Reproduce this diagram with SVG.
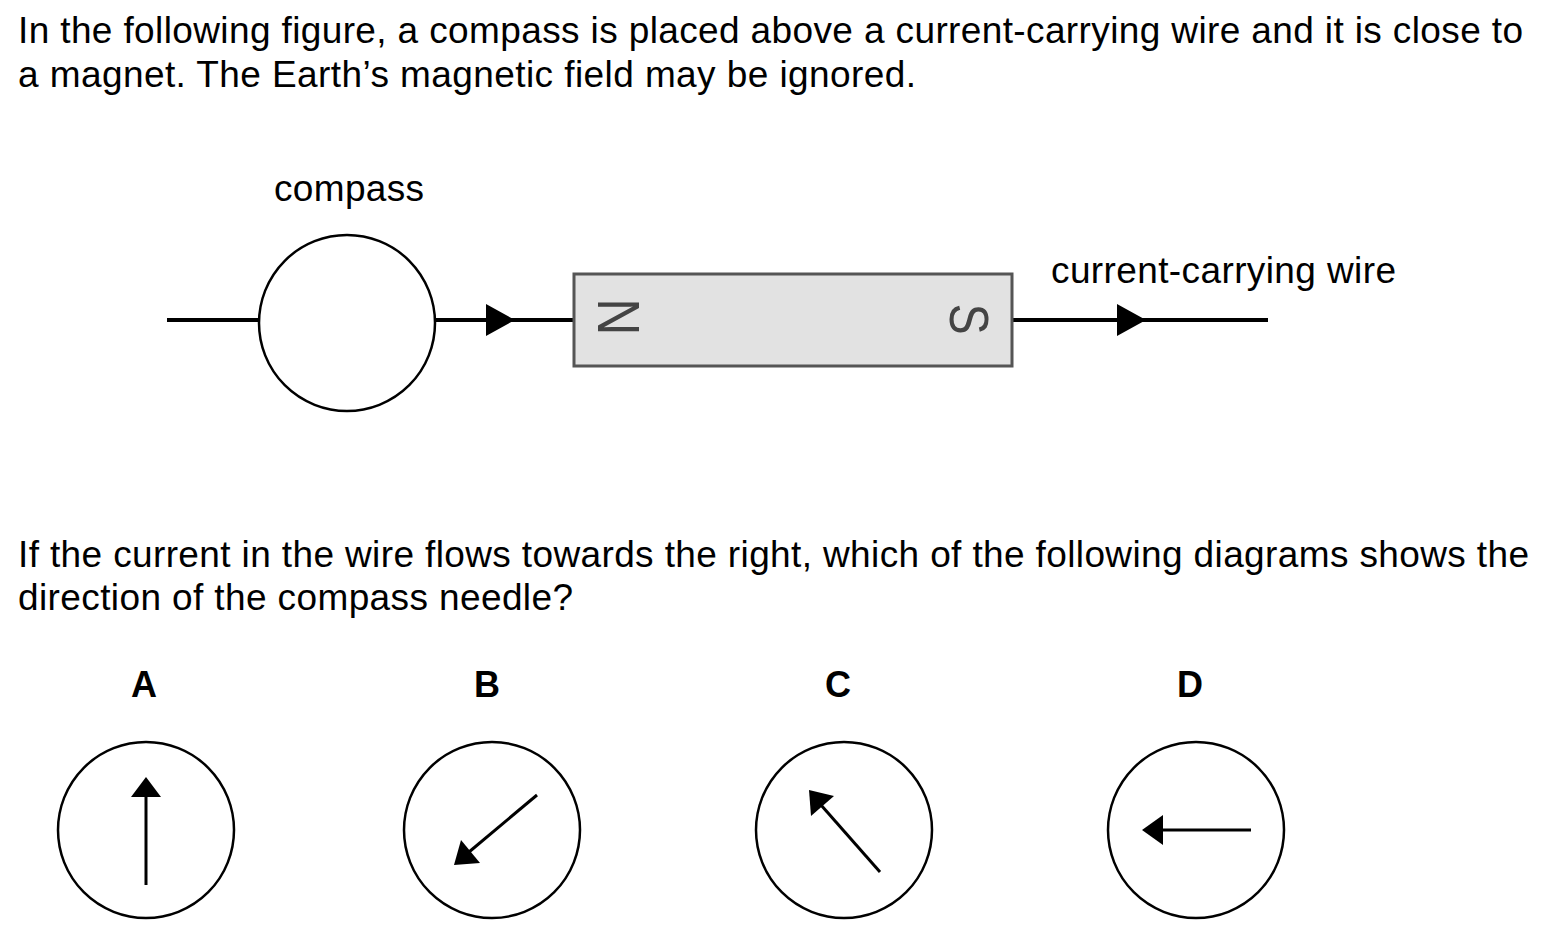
<svg xmlns="http://www.w3.org/2000/svg" width="1550" height="948" viewBox="0 0 1550 948">
<style>
.t{font-family:"Liberation Sans",Arial,Helvetica,sans-serif;font-size:37px;fill:#000}
.lbl{font-family:"Liberation Sans",Arial,Helvetica,sans-serif;font-size:36px;font-weight:bold;fill:#000;text-anchor:middle}
.ring{fill:#fff;stroke:#000;stroke-width:2.5}
.wire{stroke:#000;stroke-width:4;fill:none}
.needle{stroke:#000;stroke-width:3;fill:none}
.head{fill:#000}
.pole{font-family:"Liberation Sans",Arial,Helvetica,sans-serif;fill:#444;text-anchor:middle}
</style>
<rect width="1550" height="948" fill="#fff"/>
<g id="question-text">
<text class="t" x="18" y="43" textLength="1505" lengthAdjust="spacing">In the following figure, a compass is placed above a current-carrying wire and it is close to</text>
<text class="t" x="18" y="87" textLength="898" lengthAdjust="spacing">a magnet. The Earth’s magnetic field may be ignored.</text>
<text class="t" x="18" y="567" textLength="1511" lengthAdjust="spacing">If the current in the wire flows towards the right, which of the following diagrams shows the</text>
<text class="t" x="18" y="610" textLength="555" lengthAdjust="spacing">direction of the compass needle?</text>
</g>
<g id="connectors">
<line class="wire" x1="167" y1="320" x2="260" y2="320"/>
<line class="wire" x1="434" y1="320" x2="573" y2="320"/>
<polygon class="head" points="486,304 486,336 515,320"/>
<line class="wire" x1="1013" y1="320" x2="1268" y2="320"/>
<polygon class="head" points="1117,304 1117,336 1146,320"/>
</g>
<g id="compass">
<circle class="ring" cx="347" cy="323" r="88"/>
<text class="t" x="274" y="201" textLength="150" lengthAdjust="spacing">compass</text>
</g>
<g id="magnet">
<rect x="574" y="274" width="438" height="92" fill="#e2e2e2" stroke="#555" stroke-width="3"/>
<text class="pole" font-size="60" transform="translate(620,317) rotate(90) scale(0.86,1)" x="0" y="21.5">N</text>
<text class="pole" font-size="55" transform="translate(970,319) rotate(90) scale(0.85,1)" x="0" y="19.7">S</text>
</g>
<g id="wire-label">
<text class="t" x="1051" y="283" textLength="345" lengthAdjust="spacing">current-carrying wire</text>
</g>
<g id="option-A">
<text class="lbl" x="144" y="697">A</text>
<circle class="ring" cx="146" cy="830" r="88"/>
<line class="needle" x1="146" y1="885" x2="146" y2="795"/>
<polygon class="head" points="146,777 131,797 161,797"/>
</g>
<g id="option-B">
<text class="lbl" x="487" y="697">B</text>
<circle class="ring" cx="492" cy="830" r="88"/>
<line class="needle" x1="537" y1="795" x2="469" y2="852"/>
<polygon class="head" points="454,865 480,863 461,840"/>
</g>
<g id="option-C">
<text class="lbl" x="838" y="697">C</text>
<circle class="ring" cx="844" cy="830" r="88"/>
<line class="needle" x1="880" y1="872" x2="821" y2="805"/>
<polygon class="head" points="809,790 834,796 811,816"/>
</g>
<g id="option-D">
<text class="lbl" x="1190" y="697">D</text>
<circle class="ring" cx="1196" cy="830" r="88"/>
<line class="needle" x1="1251" y1="830" x2="1160" y2="830"/>
<polygon class="head" points="1142,830 1163,815 1163,845"/>
</g>
</svg>
